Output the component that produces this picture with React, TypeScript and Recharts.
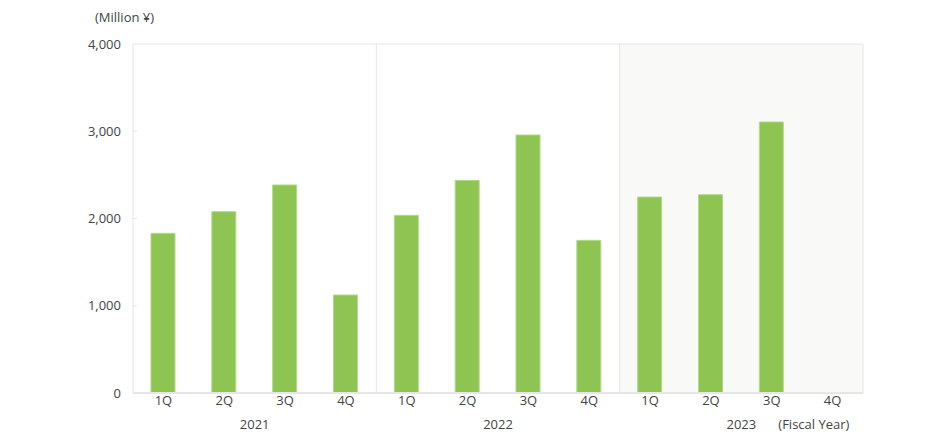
import { BarChart, Bar, XAxis, YAxis, ReferenceArea, ReferenceLine } from 'recharts';

// Quarterly net sales, million yen
const quarters = ['1Q', '2Q', '3Q', '4Q', '1Q', '2Q', '3Q', '4Q', '1Q', '2Q', '3Q', '4Q'];
const fiscalYears = [2021, 2021, 2021, 2021, 2022, 2022, 2022, 2022, 2023, 2023, 2023, 2023];
const sales: (number | null)[] = [1830, 2078, 2384, 1123, 2036, 2437, 2957, 1750, 2246, 2273, 3106, null];

const yTicks = [0, 1000, 2000, 3000, 4000];

const data = quarters.map((q, i) => ({ key: `${fiscalYears[i]}-${q}`, q, fy: fiscalYears[i], sales: sales[i] }));

const W = 930;
const H = 441;
const MARGIN = { top: 44, right: 67, left: 73, bottom: 0 };
const Y_AXIS_W = 60;
const BAND = (W - MARGIN.left - MARGIN.right - Y_AXIS_W) / data.length;

const FONT = '"Open Sans", "Noto Sans", sans-serif';
const FS = 13;
const TEXT = '#444';
const LINE = '#e6e6e6';

const YTick = ({ x, y, payload }: any) => (
  <g>
    <text x={x} y={y} dy={4.5} textAnchor="end" fill={TEXT} fontSize={FS} fontFamily={FONT}>
      {Number(payload.value).toLocaleString('en-US')}
    </text>
    {payload.value > 0 && payload.value < 4000 && (
      <line x1={x + 12} x2={x + 16} y1={y} y2={y} stroke={LINE} />
    )}
  </g>
);

const QTick = ({ x, y, payload }: any) => (
  <text x={x} y={y} dy={12} textAnchor="middle" fill={TEXT} fontSize={FS} fontFamily={FONT}>
    {quarters[payload.index]}
  </text>
);

// year label sits between 2Q and 3Q of each fiscal year
const YearTick = ({ x, y, payload }: any) => {
  const i = payload.index;
  if (i % 4 !== 1) return null;
  const last = i === data.length - 3;
  return (
    <g>
      <text x={x + BAND / 2} y={y} dy={12} textAnchor="middle" fill={TEXT} fontSize={FS} fontFamily={FONT}>
        {fiscalYears[i]}
      </text>
      {last && (
        <text x={x + BAND / 2 + 37} y={y} dy={12} textAnchor="start" fill={TEXT} fontSize={FS} fontFamily={FONT}>
          (Fiscal Year)
        </text>
      )}
    </g>
  );
};

export default function App() {
  return (
    <div style={{ position: 'absolute', left: 0, top: 0, width: W, height: H, background: '#fff' }}>
      <div style={{ position: 'absolute', left: 95, top: 8, fontSize: FS, color: TEXT, fontFamily: FONT }}>
        (Million ¥)
      </div>
      <BarChart width={W} height={H} data={data} margin={MARGIN} barSize={24}>
        <ReferenceArea
          x1="2023-1Q"
          x2="2023-4Q"
          y1={0}
          y2={4000}
          fill="#f9f9f7"
          fillOpacity={1}
          stroke="none"
          ifOverflow="visible"
        />
        <XAxis
          dataKey="key"
          height={24}
          axisLine={{ stroke: LINE, strokeWidth: 2 }}
          tickLine={false}
          tickSize={0}
          tickMargin={0}
          interval={0}
          tick={<QTick />}
        />
        <XAxis
          xAxisId="yr"
          dataKey="key"
          height={24}
          axisLine={false}
          tickLine={false}
          tickSize={0}
          tickMargin={0}
          interval={0}
          tick={<YearTick />}
        />
        <YAxis
          width={Y_AXIS_W}
          domain={[0, 4000]}
          ticks={yTicks}
          axisLine={{ stroke: LINE }}
          tickLine={false}
          tickSize={0}
          tickMargin={12}
          tick={<YTick />}
        />
        <ReferenceLine y={4000} stroke={LINE} />
        <ReferenceLine x="2022-1Q" position="start" stroke={LINE} ifOverflow="visible" />
        <ReferenceLine x="2023-1Q" position="start" stroke={LINE} ifOverflow="visible" />
        <ReferenceLine x="2023-4Q" position="end" stroke={LINE} ifOverflow="visible" />
        <Bar dataKey="sales" fill="#8dc452" stroke="#b2da88" strokeWidth={1} isAnimationActive={false} />
      </BarChart>
    </div>
  );
}
